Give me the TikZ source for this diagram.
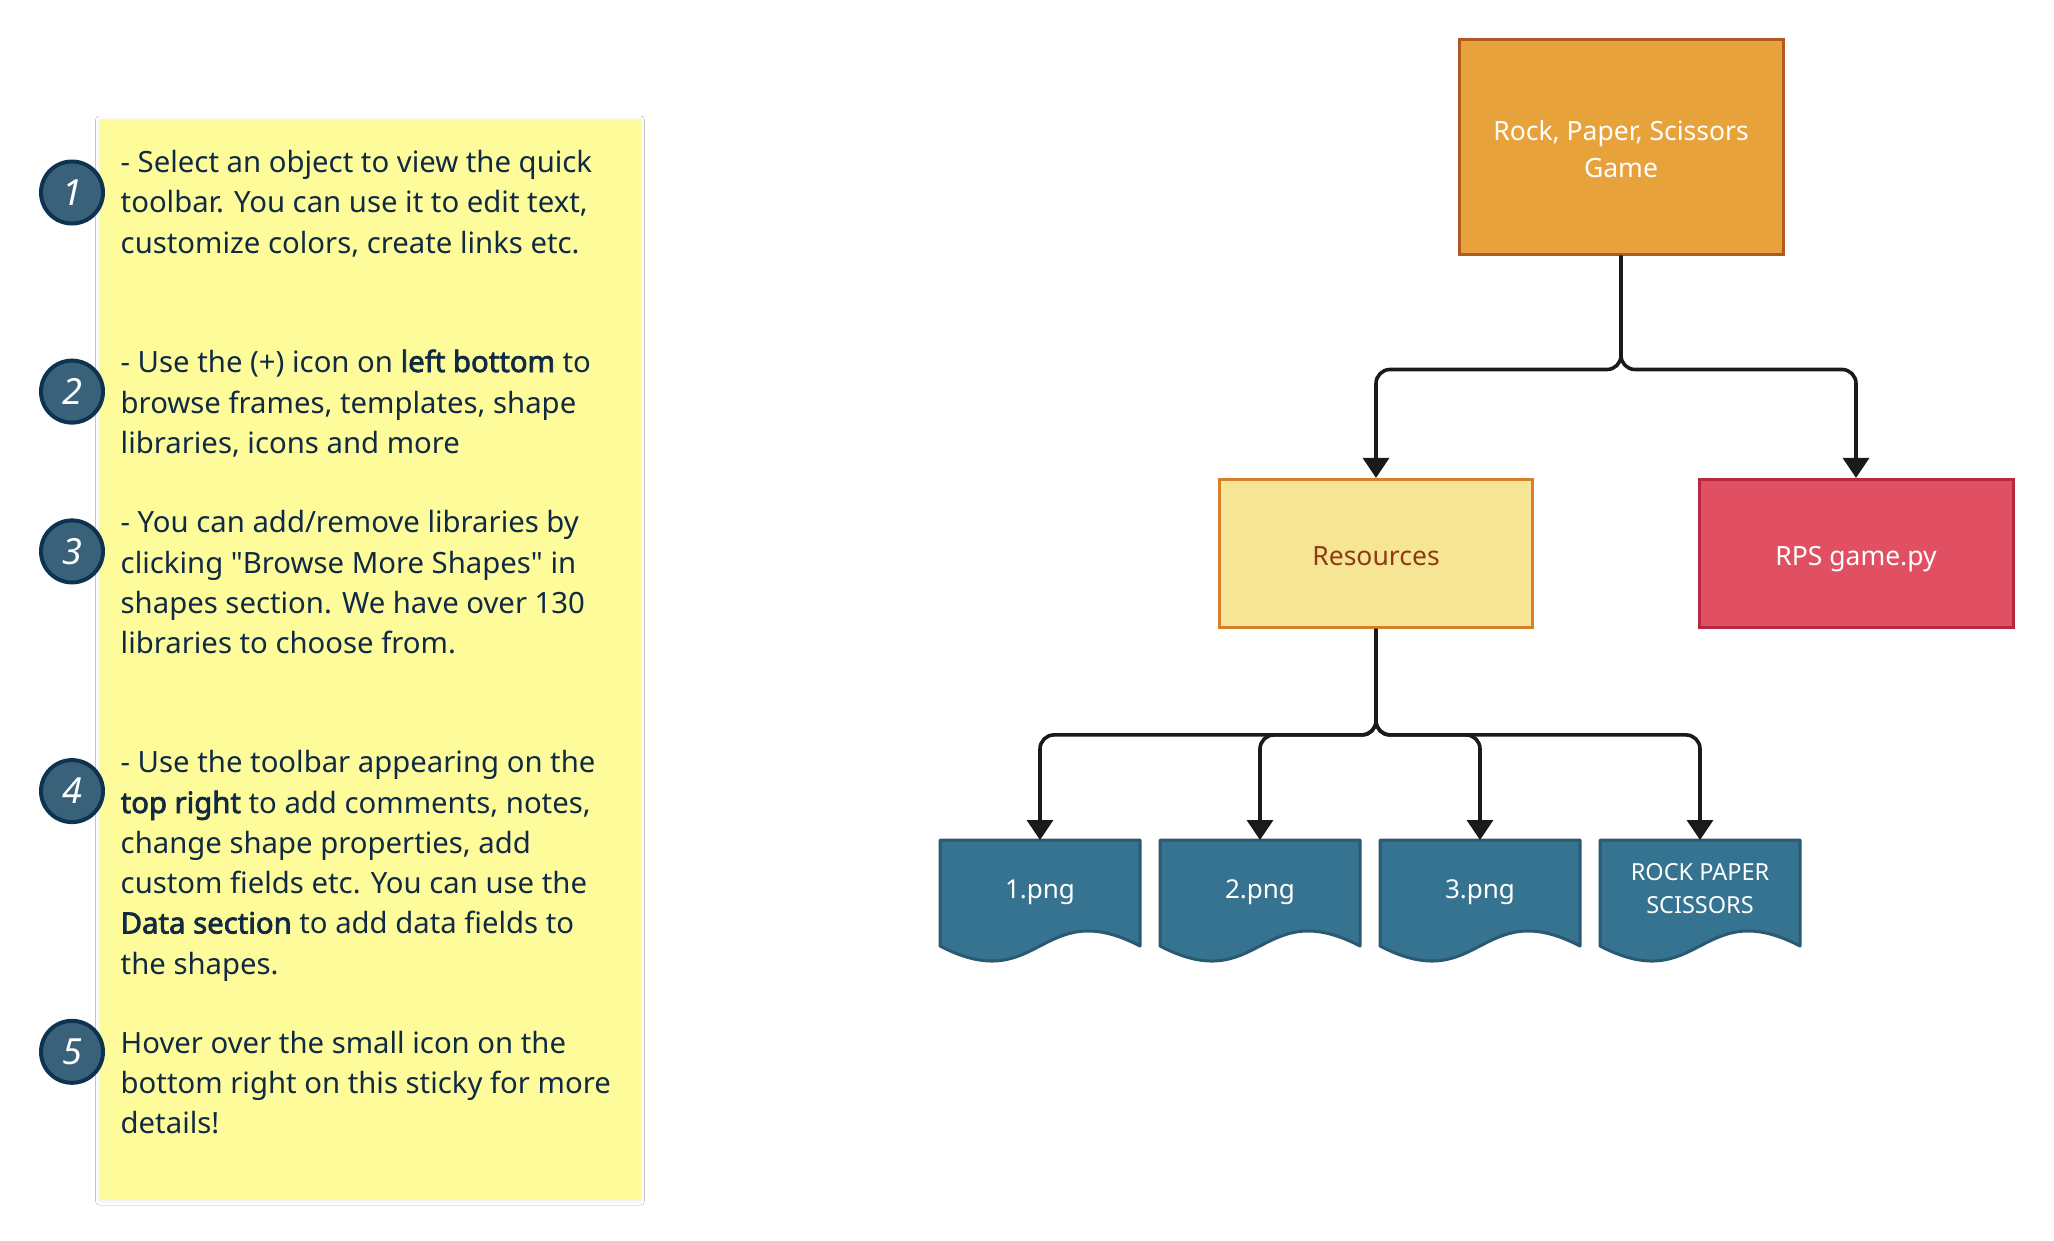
\documentclass[tikz,border=0pt]{standalone}
\usepackage{fontspec}
\setmainfont{Noto Sans}[Ligatures=TeXOff, BoldFont={Noto Sans}, BoldFeatures={FakeBold=2.5}]
\usetikzlibrary{arrows.meta,shadows.blur}
\definecolor{stickyfill}{HTML}{FEFB9A}
\definecolor{stickytext}{HTML}{102A43}
\definecolor{numfill}{HTML}{3A617A}
\definecolor{numborder}{HTML}{0D3351}
\definecolor{topfill}{HTML}{E8A23B}
\definecolor{topborder}{HTML}{B05A20}
\definecolor{resfill}{HTML}{F7E596}
\definecolor{resborder}{HTML}{D67F2C}
\definecolor{restext}{HTML}{8E3B12}
\definecolor{rpsfill}{HTML}{E04F62}
\definecolor{rpsborder}{HTML}{B52A40}
\definecolor{docfill}{HTML}{357390}
\definecolor{docborder}{HTML}{2A5A72}
\definecolor{linec}{HTML}{1A1A1A}
\begin{document}
\begin{tikzpicture}[x=1pt,y=-1pt,
  stxt/.style={anchor=base west, inner sep=0pt, text=stickytext, font=\fontsize{29.3}{40}\selectfont},
  numc/.style={circle, draw=numborder, fill=numfill, line width=4pt, minimum size=62pt, inner sep=0pt, text=white, font=\fontsize{36}{40}\selectfont\itshape},
  boxn/.style={rectangle, line width=3pt, inner sep=0pt, align=center, font=\fontsize{26.5}{37}\selectfont},
  onel/.style={text height=29.2pt, text depth=6pt},
  docl/.style={text height=23.4pt, text depth=6pt},
  docstyle/.style={fill=docfill, draw=docborder, line width=3pt, line join=round},
  doctext/.style={anchor=north, minimum width=200pt, minimum height=100pt, inner sep=0pt, align=center, text=white, font=\fontsize{26}{33}\selectfont},
  conn/.style={draw=linec, line width=3.6pt, rounded corners=14pt, -{Triangle[length=20pt,width=26pt]}},
  sticky/.style={rectangle, fill=stickyfill, inner sep=0pt, minimum width=541pt, minimum height=1081pt,
     blur shadow={shadow blur steps=8, shadow xshift=0pt, shadow yshift=-1pt, shadow opacity=8, shadow blur radius=4pt}}
]
\useasboundingbox (0,0) rectangle (2054,1240);
\fill[white] (0,0) rectangle (2054,1240);

% sticky note
\node[sticky] (sticky) at (370,659.5) {};

\node[numc] (n1) at (72,192.5) {1};
\node[numc] (n2) at (72,391.6) {2};
\node[numc] (n3) at (72,551.4) {3};
\node[numc] (n4) at (72,791.1) {4};
\node[numc] (n5) at (72,1051.8) {5};

\node[stxt] (t1a) at (120.5,172) {- Select an object to view the quick};
\node[stxt] (t1b) at (120.5,212) {toolbar. You can use it to edit text,};
\node[stxt] (t1c) at (120.5,253) {customize colors, create links etc.};

\node[stxt] (t2a) at (120.5,372) {- Use the (+) icon on \textbf{left bottom} to};
\node[stxt] (t2b) at (120.5,413) {browse frames, templates, shape};
\node[stxt] (t2c) at (120.5,453) {libraries, icons and more};

\node[stxt] (t3a) at (120.5,532) {- You can add/remove libraries by};
\node[stxt] (t3b) at (120.5,573) {clicking "Browse More Shapes" in};
\node[stxt] (t3c) at (120.5,613.5) {shapes section. We have over 130};
\node[stxt] (t3d) at (120.5,653) {libraries to choose from.};

\node[stxt] (t4a) at (120.5,772.5) {- Use the toolbar appearing on the};
\node[stxt] (t4b) at (120.5,813) {\textbf{top right} to add comments, notes,};
\node[stxt] (t4c) at (120.5,853) {change shape properties, add};
\node[stxt] (t4d) at (120.5,893.5) {custom fields etc. You can use the};
\node[stxt] (t4e) at (120.5,933.5) {\textbf{Data section} to add data fields to};
\node[stxt] (t4f) at (120.5,974) {the shapes.};

\node[stxt] (t5a) at (120.5,1053) {Hover over the small icon on the};
\node[stxt] (t5b) at (120.5,1093) {bottom right on this sticky for more};
\node[stxt] (t5c) at (120.5,1133) {details!};

% main boxes
\node[boxn, fill=topfill, draw=topborder, minimum width=324pt, minimum height=215pt] (top) at (1621,146.5) {};
\node[boxn, text=white] (toptext) at (1621,149.2) {Rock, Paper, Scissors\\Game};
\node[boxn, onel, fill=resfill, draw=resborder, text=restext, minimum width=313pt, minimum height=148pt] (res) at (1376,553.4) {Resources};
\node[boxn, onel, fill=rpsfill, draw=rpsborder, text=white, minimum width=314pt, minimum height=148pt] (rps) at (1856,553.4) {RPS game.py};

% document shapes
\foreach \cx in {1040,1260,1480,1700}{
  \draw[docstyle] (\cx-100,840) -- (\cx+100,840) -- (\cx+100,946)
     .. controls (\cx,894) and (\cx,998) .. (\cx-100,946) -- cycle;
}
\node[doctext, docl] (d1) at (1040,840) {1.png};
\node[doctext, docl] (d2) at (1260,840) {2.png};
\node[doctext, docl] (d3) at (1480,840) {3.png};
\node[doctext, font=\fontsize{23.5}{33}\selectfont] (d4) at (1700,840)
  {\raisebox{2.6pt}{\begin{tabular}{@{}c@{}}ROCK PAPER\\SCISSORS\end{tabular}}};

% connectors
\draw[conn] (top.south) -- ++(0,114) -| (res.north);
\draw[conn] (top.south) -- ++(0,114) -| (rps.north);
\draw[conn] (res.south) -- ++(0,106) -| (d1.north);
\draw[conn] (res.south) -- ++(0,106) -| (d2.north);
\draw[conn] (res.south) -- ++(0,106) -| (d3.north);
\draw[conn] (res.south) -- ++(0,106) -| (d4.north);
\end{tikzpicture}
\end{document}
